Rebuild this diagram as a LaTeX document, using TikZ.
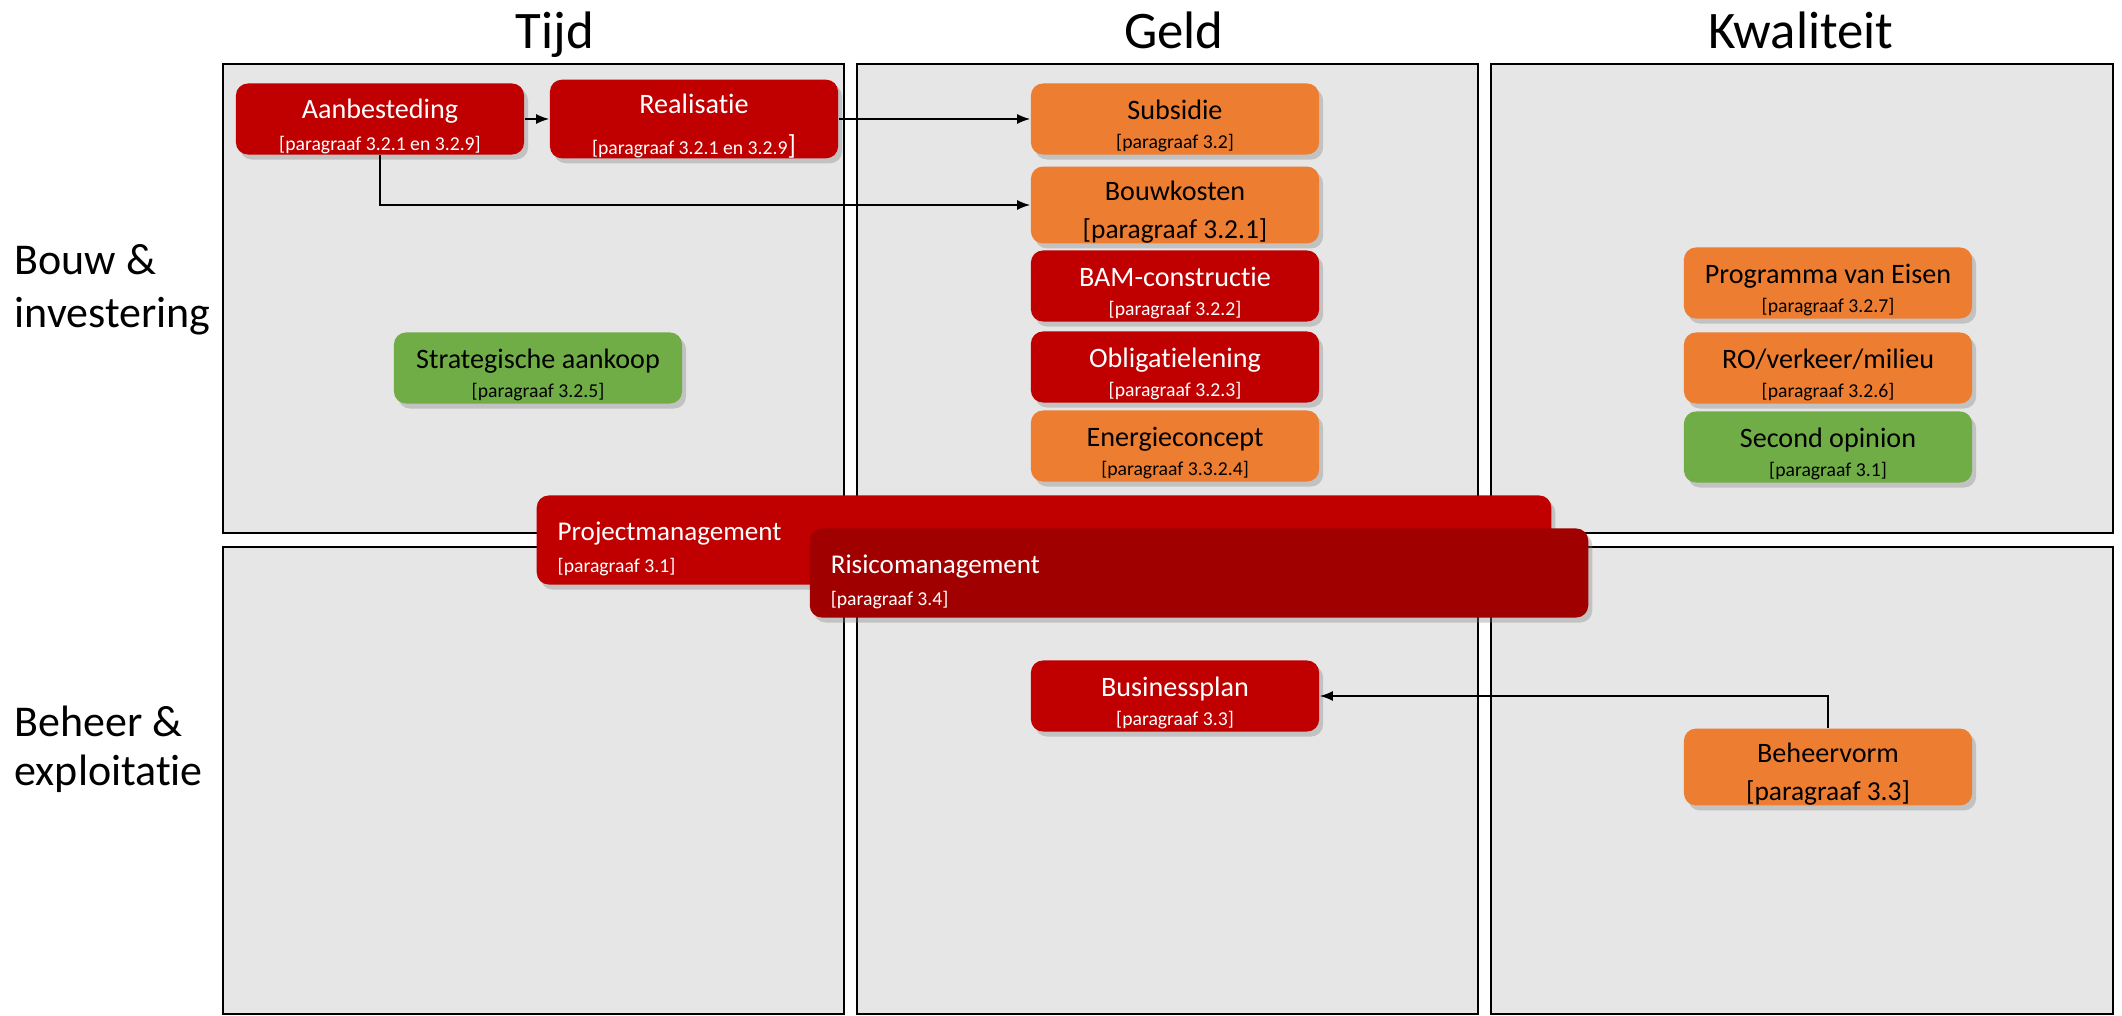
\documentclass[tikz,border=0pt]{standalone}
\usepackage{fontspec}
\setmainfont{Carlito}[Ligatures=NoCommon]
\usetikzlibrary{arrows.meta,shadows}
\definecolor{bcred}{HTML}{C00000}
\definecolor{bcdark}{HTML}{A00000}
\definecolor{bcorange}{HTML}{ED7D31}
\definecolor{bcgreen}{HTML}{70AD47}
\definecolor{bcpanel}{HTML}{E6E6E6}
\newcommand{\refsm}[1]{{\fontsize{5.6}{6}\selectfont #1}}
\newcommand{\refbig}[1]{{\fontsize{7.8}{8}\selectfont #1}}
\newcommand{\tstrut}{\rule{0pt}{9.7pt}}
\newcommand{\wstrut}{\rule{0pt}{10.5pt}}

\begin{document}
\begin{tikzpicture}[x=0.01cm, y=-0.01cm,
  panel/.style={draw=black, line width=0.8pt, fill=bcpanel},
  box/.style={rounded corners=0.12cm, minimum width=2.88cm, minimum height=0.71cm,
    inner sep=0pt, align=center, font=\fontsize{8}{8.2}\selectfont,
    drop shadow={opacity=0.35, shadow xshift=0.04cm, shadow yshift=-0.05cm}},
  redbox/.style={box, fill=bcred, text=white},
  orangebox/.style={box, fill=bcorange, text=black},
  greenbox/.style={box, fill=bcgreen, text=black},
  widebox/.style={box, minimum height=0.89cm, align=flush left, inner xsep=0.21cm,
    text=white, font=\fontsize{7.7}{9.2}\selectfont},
  link/.style={black, line width=0.5pt, -{Latex[length=0.13cm,width=0.1cm]}},
  heading/.style={font=\fontsize{15}{18}\selectfont, anchor=base},
  rowlabel/.style={font=\fontsize{12.5}{15}\selectfont, anchor=base west, inner sep=0pt}]
  \path[use as bounding box] (0,0) rectangle (2122,1016);

  % --- six panels (2 rows x 3 columns) ---
  \draw[panel] (223,64)  rectangle (844,533);
  \draw[panel] (857,64)  rectangle (1478,533);
  \draw[panel] (1491,64) rectangle (2113,533);
  \draw[panel] (223,547)  rectangle (844,1014);
  \draw[panel] (857,547)  rectangle (1478,1014);
  \draw[panel] (1491,547) rectangle (2113,1014);

  % --- column headings ---
  \node[heading] (hTijd)  at (555,49)  {Tijd};
  \node[heading] (hGeld)  at (1174,49) {Geld};
  \node[heading] (hKwal)  at (1801,49) {Kwaliteit};

  % --- row labels ---
  \node[rowlabel] (rBouw)  at (14,275) {Bouw \&};
  \node[rowlabel] (rInv)   at (14,328) {investering};
  \node[rowlabel] (rBeh)   at (14,736) {Beheer \&};
  \node[rowlabel] (rExpl)  at (14,785) {exploitatie};

  % --- Tijd, bouw ---
  \node[redbox] (aanb) at (380,119)
    {\tstrut Aanbesteding\\[0.9pt]\refsm{[paragraaf 3.2.1 en 3.2.9]}};
  \node[redbox] (real) at (694,119)
    {\tstrut Realisatie\\[3.4pt]\refsm{[paragraaf 3.2.1 en 3.2.9}\refbig{]}};
  \node[greenbox] (strat) at (538,368)
    {\tstrut Strategische aankoop\\\refsm{[paragraaf 3.2.5]}};

  % --- Geld, bouw ---
  \node[orangebox] (subs)  at (1175,119) {\tstrut Subsidie\\\refsm{[paragraaf 3.2]}};
  \node[orangebox] (bouwk) at (1175,205) {\tstrut Bouwkosten\\[2.6pt]\refbig{[paragraaf 3.2.1]}};
  \node[redbox]    (bam)   at (1175,286) {\tstrut BAM-constructie\\\refsm{[paragraaf 3.2.2]}};
  \node[redbox]    (oblig) at (1175,367) {\tstrut Obligatielening\\\refsm{[paragraaf 3.2.3]}};
  \node[orangebox] (energ) at (1175,446) {\tstrut Energieconcept\\\refsm{[paragraaf 3.3.2.4]}};

  % --- Kwaliteit, bouw ---
  \node[orangebox] (pve)    at (1828,283) {\tstrut Programma van Eisen\\\refsm{[paragraaf 3.2.7]}};
  \node[orangebox] (ro)     at (1828,368) {\tstrut RO/verkeer/milieu\\\refsm{[paragraaf 3.2.6]}};
  \node[greenbox]  (second) at (1828,447) {\tstrut Second opinion\\\refsm{[paragraaf 3.1]}};

  % --- beheer row ---
  \node[redbox]    (business) at (1175,696) {\tstrut Businessplan\\\refsm{[paragraaf 3.3]}};
  \node[orangebox] (beheer)   at (1828,767) {\tstrut Beheervorm\\[2.6pt]\refbig{[paragraaf 3.3]}};

  % --- overarching bars ---
  \node[widebox, fill=bcred, minimum width=10.14cm, text width=9.72cm] (proj) at (1044,540)
    {\wstrut Projectmanagement\\\refsm{[paragraaf 3.1]}};
  \node[widebox, fill=bcdark, minimum width=7.78cm, text width=7.36cm] (risico) at (1199,573)
    {\wstrut Risicomanagement\\\refsm{[paragraaf 3.4]}};

  % --- connectors ---
  \draw[link] (aanb) -- (real);
  \draw[link] (real) -- (subs);
  \draw[link] (aanb.south) |- (bouwk.west);
  \draw[link] (beheer.north) |- (business.east);
\end{tikzpicture}
\end{document}
